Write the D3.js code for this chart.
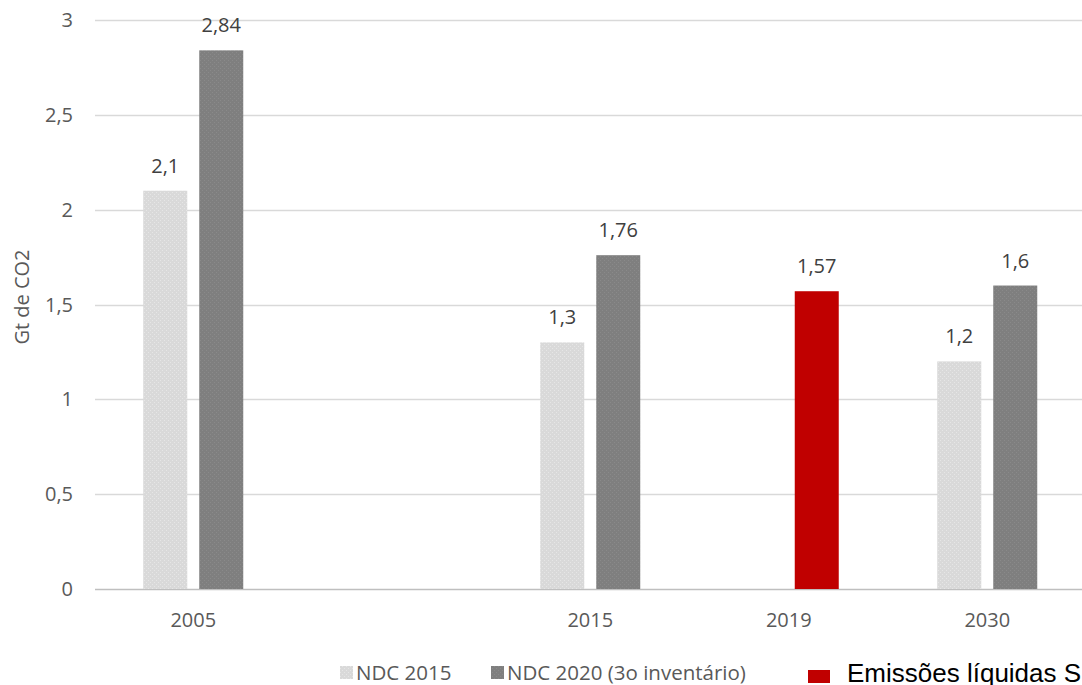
<!DOCTYPE html>
<html>
<head>
<meta charset="utf-8">
<script src="https://cdn.jsdelivr.net/npm/d3@7"></script>
<style>
  body { margin: 0; background: #fff; }
  svg text { font-family: "Open Sans", sans-serif; }
</style>
</head>
<body>
<div class="plot"></div>
<script>
// categories (the blank one keeps the gap between 2005 and 2015)
var categories = ["2005", "", "2015", "2019", "2030"];
var series = ["NDC 2015", "NDC 2020 (3o inventário)", "Emissões líquidas SEEG"];
var ndc2015 = [2.1, null, 1.3, null, 1.2];
var ndc2020 = [2.84, null, 1.76, null, 1.6];
var liquidas = [null, null, null, 1.57, null];
var yTicks = [0, 0.5, 1, 1.5, 2, 2.5, 3];

var width = 1082, height = 685;

var svg = d3.select(".plot")
  .append("svg")
  .attr("width", width)
  .attr("height", height);

// light dotted texture like the office chart fills
var defs = svg.append("defs");
function texture(id, base, dot) {
  var p = defs.append("pattern")
    .attr("id", id)
    .attr("width", 4)
    .attr("height", 4)
    .attr("patternUnits", "userSpaceOnUse");
  p.append("rect").attr("width", 4).attr("height", 4).style("fill", base);
  p.append("rect").attr("x", 0).attr("y", 0).attr("width", 1).attr("height", 1).style("fill", dot);
  p.append("rect").attr("x", 2).attr("y", 2).attr("width", 1).attr("height", 1).style("fill", dot);
}
texture("tex-light", "#d9d9d9", "#e6e6e6");
texture("tex-dark", "#7f7f7f", "#8a8a8a");

var ptBR = d3.formatLocale({ decimal: ",", thousands: ".", grouping: [3], currency: ["R$", ""] });
var fmt = ptBR.format("~g");

// scales
var x = d3.scaleBand()
  .domain(d3.range(categories.length))
  .range([94, 1086.5]);

var inner = d3.scaleBand()
  .domain([0, 1])
  .range([-50, 50])
  .paddingInner(0.2143);

var y = d3.scaleLinear()
  .domain([0, 3])
  .range([589, 20]);

// grid lines
svg.append("g")
  .selectAll("line")
  .data(yTicks)
  .join("line")
  .attr("x1", 95)
  .attr("x2", width)
  .attr("y1", function (d) { return Math.round(y(d)) + 0.5; })
  .attr("y2", function (d) { return Math.round(y(d)) + 0.5; })
  .style("stroke", function (d) { return d == 0 ? "#bfbfbf" : "#d9d9d9"; })
  .style("stroke-width", 1.5);

// y axis labels
svg.append("g")
  .selectAll("text")
  .data(yTicks)
  .join("text")
  .attr("x", 73)
  .attr("y", function (d) { return y(d); })
  .attr("dy", "0.35em")
  .style("text-anchor", "end")
  .style("font-size", "20px")
  .style("fill", "#595959")
  .text(function (d) { return fmt(d); });

// y title
svg.append("text")
  .attr("transform", "rotate(-90)")
  .attr("x", -297)
  .attr("y", 22)
  .attr("dy", "0.35em")
  .style("text-anchor", "middle")
  .style("font-size", "20px")
  .style("fill", "#595959")
  .text("Gt de CO2");

// x labels
svg.append("g")
  .selectAll("text")
  .data(categories)
  .join("text")
  .attr("x", function (d, i) { return x(i) + x.bandwidth() / 2; })
  .attr("y", 620)
  .attr("dy", "0.35em")
  .style("text-anchor", "middle")
  .style("font-size", "20px")
  .style("fill", "#595959")
  .text(function (d) { return d; });

// build bar rows
var bars = [];
categories.forEach(function (c, i) {
  if (ndc2015[i] != null) bars.push({ i: i, slot: 0, v: ndc2015[i], color: "url(#tex-light)" });
  if (ndc2020[i] != null) bars.push({ i: i, slot: 1, v: ndc2020[i], color: "url(#tex-dark)" });
  if (liquidas[i] != null) bars.push({ i: i, slot: 1, v: liquidas[i], color: "#c00000" });
});

function barX(d) { return x(d.i) + x.bandwidth() / 2 + inner(d.slot); }

svg.append("g")
  .selectAll("rect")
  .data(bars)
  .join("rect")
  .attr("x", barX)
  .attr("width", inner.bandwidth())
  .attr("y", function (d) { return y(d.v); })
  .attr("height", function (d) { return y(0) - y(d.v); })
  .style("fill", function (d) { return d.color; });

// value labels
svg.append("g")
  .selectAll("text")
  .data(bars)
  .join("text")
  .attr("x", function (d) { return barX(d) + inner.bandwidth() / 2; })
  .attr("y", function (d) { return y(d.v) - 25; })
  .attr("dy", "0.35em")
  .style("text-anchor", "middle")
  .style("font-size", "20px")
  .style("fill", "#404040")
  .text(function (d) { return fmt(d.v); });

// legend (the last entry runs off the right edge, as in the original)
var legend = [
  { label: series[0], color: "url(#tex-light)", x: 340, y: 666, w: 13, h: 13, tx: 356, font: "Open Sans", fs: 20.5, fill: "#595959" },
  { label: series[1], color: "url(#tex-dark)", x: 491, y: 666, w: 13, h: 13, tx: 507, font: "Open Sans", fs: 20.5, fill: "#595959" },
  { label: series[2], color: "#c00000", x: 808, y: 670, w: 22, h: 13, tx: 847, font: "Arial", fs: 26, fill: "#000" }
];

var lg = svg.append("g");
legend.forEach(function (l) {
  lg.append("rect")
    .attr("x", l.x)
    .attr("y", l.y)
    .attr("width", l.w)
    .attr("height", l.h)
    .style("fill", l.color);
  lg.append("text")
    .attr("x", l.tx)
    .attr("y", 673)
    .attr("dy", "0.35em")
    .style("font-family", l.font)
    .style("font-size", l.fs + "px")
    .style("fill", l.fill)
    .text(l.label);
});
</script>
</body>
</html>
